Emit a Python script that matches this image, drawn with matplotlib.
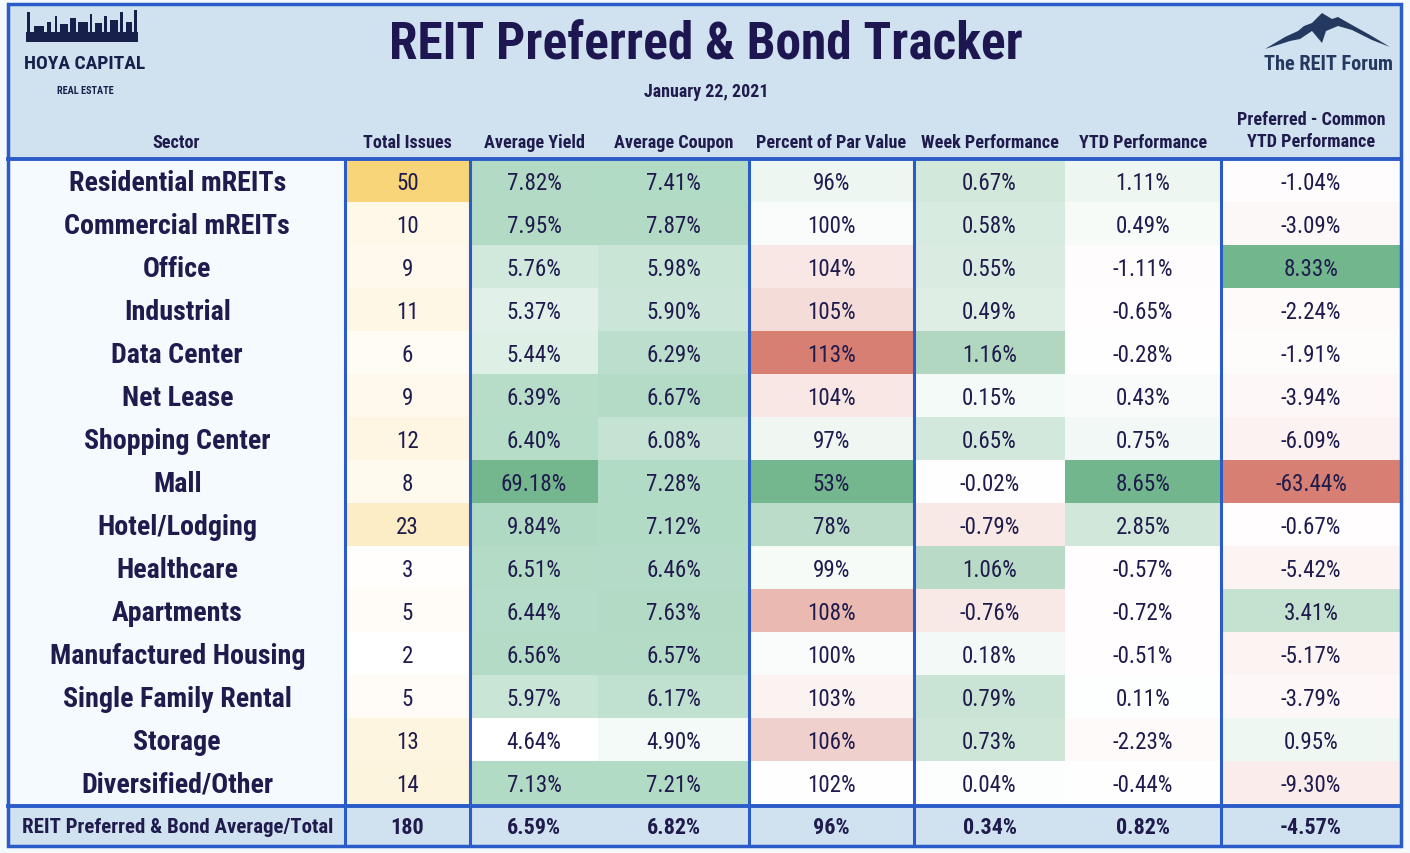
import numpy as np
import matplotlib
matplotlib.use("Agg")
import matplotlib.pyplot as plt
from matplotlib import font_manager as fm
from matplotlib.colors import LinearSegmentedColormap, Normalize, TwoSlopeNorm
from matplotlib.patches import Rectangle, Polygon

# =================================================
# DATOS
# =================================================
sectores = ["Residential mREITs", "Commercial mREITs", "Office", "Industrial",
            "Data Center", "Net Lease", "Shopping Center", "Mall", "Hotel/Lodging",
            "Healthcare", "Apartments", "Manufactured Housing", "Single Family Rental",
            "Storage", "Diversified/Other"]
total_emisiones = [50, 10, 9, 11, 6, 9, 12, 8, 23, 3, 5, 2, 5, 13, 14]
rend_promedio = [7.82, 7.95, 5.76, 5.37, 5.44, 6.39, 6.40, 69.18, 9.84, 6.51,
                 6.44, 6.56, 5.97, 4.64, 7.13]
cupon_promedio = [7.41, 7.87, 5.98, 5.90, 6.29, 6.67, 6.08, 7.28, 7.12, 6.46,
                  7.63, 6.57, 6.17, 4.90, 7.21]
pct_par = [96, 100, 104, 105, 113, 104, 97, 53, 78, 99, 108, 100, 103, 106, 102]
semana = [0.67, 0.58, 0.55, 0.49, 1.16, 0.15, 0.65, -0.02, -0.79, 1.06,
          -0.76, 0.18, 0.79, 0.73, 0.04]
ytd = [1.11, 0.49, -1.11, -0.65, -0.28, 0.43, 0.75, 8.65, 2.85, -0.57,
       -0.72, -0.51, 0.11, -2.23, -0.44]
pref_comun = [-1.04, -3.09, 8.33, -2.24, -1.91, -3.94, -6.09, -63.44, -0.67, -5.42,
              3.41, -5.17, -3.79, 0.95, -9.30]

encabezados = ["Sector", "Total Issues", "Average Yield", "Average Coupon",
               "Percent of Par Value", "Week Performance", "YTD Performance",
               "Preferred - Common\nYTD Performance"]
etiqueta_total = "REIT Preferred & Bond Average/Total"
totales = ["180", "6.59%", "6.82%", "96%", "0.34%", "0.82%", "-4.57%"]

titulo = "REIT Preferred & Bond Tracker"
fecha = "January 22, 2021"

# =================================================
# ESTILO
# =================================================
AZUL_LINEA = "#2a5bc8"
FONDO_HEADER = "#d0e1f0"
FONDO_SECTOR = "#f5fafe"
TEXTO = "#1f1b4d"

ANCHO, ALTO = 1410, 854
bordes_col = [7.5, 345, 470, 598, 749, 914, 1065, 1221, 1401]
lineas_col = [345, 470, 749, 914, 1221]   # separadores azules verticales
y_header = 160
alto_fila = 43
y_footer = y_header + alto_fila * len(sectores)
y_fondo = 847
LW = 2.2


def fuente_angosta():
    """Busca una fuente condensada instalada (el original usa Arial Narrow)."""
    fuentes = fm.fontManager.ttflist
    nombres = {f.name for f in fuentes}
    for fam in ["Liberation Sans Narrow", "Roboto Condensed", "Open Sans Condensed",
                "DejaVu Sans Condensed", "Noto Sans Condensed"]:
        if fam in nombres:
            return fam, "normal"
    for fam in ["Roboto", "Noto Sans", "Open Sans", "DejaVu Sans"]:
        if any(f.name == fam and "condensed" in str(f.stretch) for f in fuentes):
            return fam, "condensed"
    return "Liberation Sans", "normal"


FAMILIA, ESTIRA = fuente_angosta()
FUENTE = dict(family=[FAMILIA, "DejaVu Sans"], stretch=ESTIRA, color=TEXTO)

# escalas de color (como el formato condicional del excel)
amarillo = LinearSegmentedColormap.from_list("amarillo", ["#ffffff", "#f9d57a"])
verde3 = LinearSegmentedColormap.from_list("verde3", ["#ffffff", "#b3dbc6", "#74b78f"])
par_cmap = LinearSegmentedColormap.from_list("par", ["#74b78f", "#ffffff", "#d77f72"])
rojo_verde = LinearSegmentedColormap.from_list("rv", ["#d77f72", "#ffffff", "#72b68e"])

rend_todo = np.array(rend_promedio + cupon_promedio)
norma_rend = TwoSlopeNorm(vmin=rend_todo.min(), vcenter=np.median(rend_todo),
                          vmax=rend_todo.max())
norma_par = TwoSlopeNorm(vmin=min(pct_par), vcenter=np.median(pct_par), vmax=max(pct_par))
norma_semana = TwoSlopeNorm(vmin=-4.5, vcenter=0, vmax=2.1)
norma_ytd = TwoSlopeNorm(vmin=min(pref_comun), vcenter=0, vmax=max(ytd))
norma_pref = TwoSlopeNorm(vmin=min(pref_comun), vcenter=0, vmax=max(pref_comun))

columnas = [
    (total_emisiones, amarillo, Normalize(min(total_emisiones), max(total_emisiones)), "{:d}"),
    (rend_promedio, verde3, norma_rend, "{:.2f}%"),
    (cupon_promedio, verde3, norma_rend, "{:.2f}%"),
    (pct_par, par_cmap, norma_par, "{:d}%"),
    (semana, rojo_verde, norma_semana, "{:.2f}%"),
    (ytd, rojo_verde, norma_ytd, "{:.2f}%"),
    (pref_comun, rojo_verde, norma_pref, "{:.2f}%"),
]

fig = plt.figure(figsize=(14.1, 8.54), dpi=100)
fig.patch.set_facecolor("#f4f9fd")
ax = fig.add_axes([0, 0, 1, 1])
ax.set_xlim(0, ANCHO)
ax.set_ylim(ALTO, 0)
ax.axis("off")
renderer = fig.canvas.get_renderer()


def tam_para(texto, ancho, peso="normal", maximo=60):
    """Tamaño de letra para que 'texto' mida 'ancho' px, como en el original."""
    t = ax.text(0, 0, texto, fontsize=20, fontweight=peso, **FUENTE)
    w = t.get_window_extent(renderer).width
    t.remove()
    return min(20 * ancho / w, maximo)


tam_celda = tam_para("7.82%", 55)
tam_sector = tam_para("Manufactured Housing", 255, "bold")
tam_header = tam_para("Percent of Par Value", 150, "bold")
tam_total_lbl = tam_para(etiqueta_total, 311, "bold")
tam_total = tam_para("-4.57%", 62, "bold")
tam_titulo = tam_para(titulo, 632, "bold")
tam_fecha = tam_para(fecha, 124, "bold")

# fondos
ax.add_patch(Rectangle((bordes_col[0], 5), bordes_col[-1] - bordes_col[0], y_header - 5,
                       facecolor=FONDO_HEADER, edgecolor="none"))
ax.add_patch(Rectangle((bordes_col[0], y_header), bordes_col[1] - bordes_col[0],
                       y_footer - y_header, facecolor=FONDO_SECTOR, edgecolor="none"))
ax.add_patch(Rectangle((bordes_col[0], y_footer), bordes_col[-1] - bordes_col[0],
                       y_fondo - y_footer, facecolor=FONDO_HEADER, edgecolor="none"))

# celdas con color
for j, (valores, cmap, norma, fmt) in enumerate(columnas):
    x0, x1 = bordes_col[j + 1], bordes_col[j + 2]
    for i, v in enumerate(valores):
        y0 = y_header + i * alto_fila
        ax.add_patch(Rectangle((x0, y0), x1 - x0, alto_fila,
                               facecolor=cmap(norma(v)), edgecolor="none"))
        ax.text((x0 + x1) / 2, y0 + alto_fila / 2 + 2, fmt.format(v), ha="center",
                va="center", fontsize=tam_celda, **FUENTE)

# nombres de sector
xc_sector = (bordes_col[0] + bordes_col[1]) / 2 + 1
for i, s in enumerate(sectores):
    ax.text(xc_sector, y_header + i * alto_fila + alto_fila / 2 + 2, s, ha="center",
            va="center", fontsize=tam_sector, fontweight="bold", **FUENTE)

# encabezados de columna
for j, h in enumerate(encabezados):
    xc = (bordes_col[j] + bordes_col[j + 1]) / 2
    ax.text(xc, 143 if "\n" not in h else 131, h, ha="center", va="center",
            fontsize=tam_header, fontweight="bold", linespacing=1.3, **FUENTE)

# fila de totales
y_tot = (y_footer + y_fondo) / 2 + 2
ax.text(xc_sector, y_tot, etiqueta_total, ha="center", va="center",
        fontsize=tam_total_lbl, fontweight="bold", **FUENTE)
for j, t in enumerate(totales):
    xc = (bordes_col[j + 1] + bordes_col[j + 2]) / 2
    ax.text(xc, y_tot, t, ha="center", va="center", fontsize=tam_total,
            fontweight="bold", **FUENTE)

# lineas azules
for x in lineas_col:
    ax.plot([x, x], [y_header, y_fondo], color=AZUL_LINEA, lw=LW, solid_capstyle="butt")
ax.plot([bordes_col[0], bordes_col[-1]], [y_header, y_header], color=AZUL_LINEA, lw=LW + 0.6)
ax.plot([bordes_col[0], bordes_col[-1]], [y_footer + 2, y_footer + 2], color=AZUL_LINEA,
        lw=LW + 0.6)
ax.add_patch(Rectangle((bordes_col[0], 5), bordes_col[-1] - bordes_col[0], y_fondo - 5,
                       facecolor="none", edgecolor=AZUL_LINEA, lw=LW + 0.3))

# titulo y fecha
ax.text(706, 46, titulo, ha="center", va="center", fontsize=tam_titulo, fontweight="bold",
        family=FUENTE["family"], stretch=ESTIRA, color="#1e1650")
ax.text(706, 92, fecha, ha="center", va="center", fontsize=tam_fecha, fontweight="bold",
        **FUENTE)

# logo Hoya Capital (skyline simplificado)
navy = "#16204a"
ax.add_patch(Rectangle((26, 33), 112, 10, facecolor=navy, edgecolor="none"))
for xb, h, w in [(27, 20, 3), (34, 6, 10), (47, 10, 4), (55, 16, 2), (60, 8, 8),
                 (70, 14, 6), (78, 10, 10), (90, 18, 2), (95, 9, 7), (104, 16, 3),
                 (110, 12, 8), (120, 20, 3), (126, 10, 6), (134, 22, 3)]:
    ax.add_patch(Rectangle((xb, 33 - h), w, h, facecolor=navy, edgecolor="none"))
ax.text(85, 64, "HOYA CAPITAL", ha="center", va="center",
        fontsize=tam_para("HOYA CAPITAL", 121, "bold"), fontweight="bold",
        family=FUENTE["family"], stretch=ESTIRA, color=navy)
ax.text(85, 91, "REAL ESTATE", ha="center", va="center",
        fontsize=tam_para("REAL ESTATE", 57, "bold"), fontweight="bold",
        family=FUENTE["family"], stretch=ESTIRA, color=navy)

# logo The REIT Forum
azul_logo = "#24395f"
montana = Polygon([(1265, 50), (1285, 38), (1298, 32), (1304, 27), (1312, 24), (1322, 14),
                   (1332, 20), (1338, 18), (1352, 26), (1370, 36), (1390, 48),
                   (1372, 41), (1352, 31), (1338, 27), (1326, 32), (1322, 44),
                   (1312, 32), (1300, 40), (1290, 42)],
                  closed=True, facecolor=azul_logo, edgecolor="none")
ax.add_patch(montana)
ax.text(1328, 65, "The REIT Forum", ha="center", va="center",
        fontsize=tam_para("The REIT Forum", 129, "bold"), fontweight="bold",
        family=FUENTE["family"], stretch=ESTIRA, color=azul_logo)

fig.savefig("out.png", dpi=100, facecolor=fig.get_facecolor())
